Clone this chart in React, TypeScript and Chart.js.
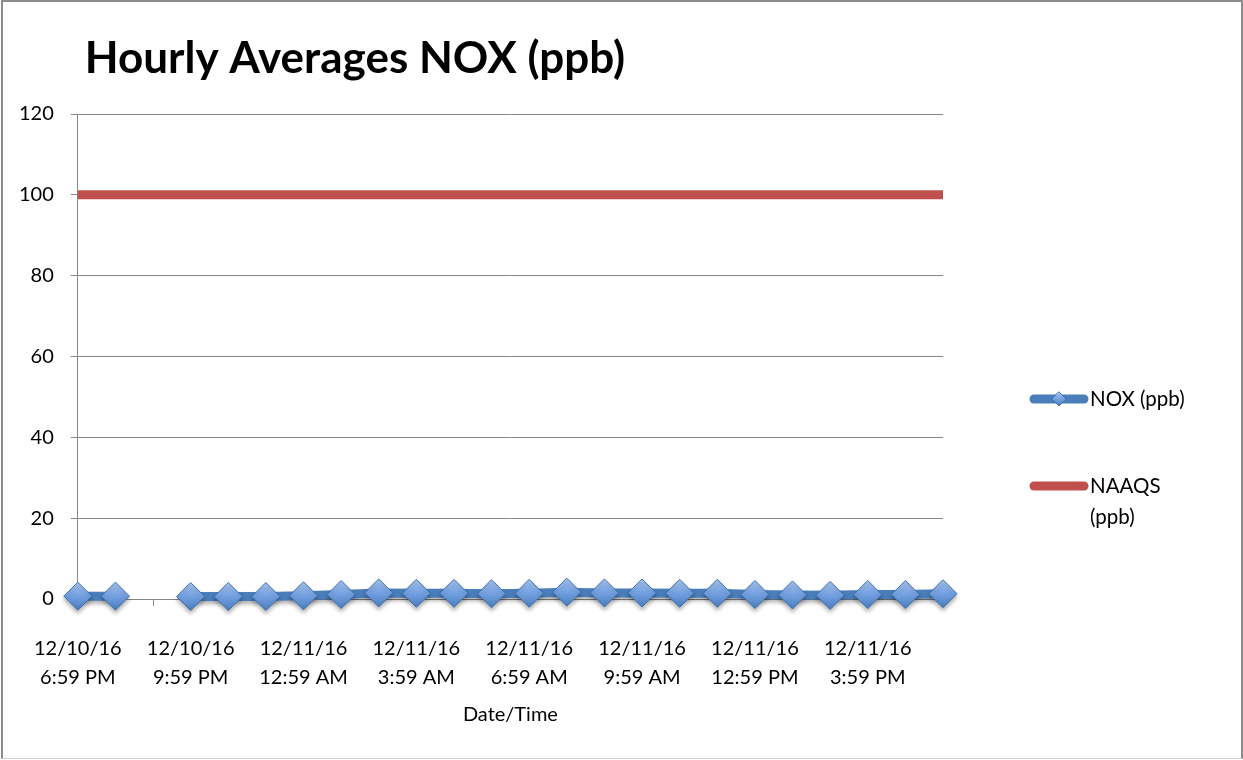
import React, { useEffect, useRef } from "react";
import { Chart, registerables } from "chart.js";

Chart.register(...registerables);

const FONT = "Lato, 'Open Sans', sans-serif";

const chartTitle = "Hourly Averages NOX (ppb)";
const xAxisTitle = "Date/Time";

const dates: string[] = [
  "12/10/16", "12/10/16", "12/10/16", "12/10/16", "12/10/16", "12/10/16",
  "12/11/16", "12/11/16", "12/11/16", "12/11/16", "12/11/16", "12/11/16",
  "12/11/16", "12/11/16", "12/11/16", "12/11/16", "12/11/16", "12/11/16",
  "12/11/16", "12/11/16", "12/11/16", "12/11/16", "12/11/16", "12/11/16",
];
const times: string[] = [
  "6:59 PM", "7:59 PM", "8:59 PM", "9:59 PM", "10:59 PM", "11:59 PM",
  "12:59 AM", "1:59 AM", "2:59 AM", "3:59 AM", "4:59 AM", "5:59 AM",
  "6:59 AM", "7:59 AM", "8:59 AM", "9:59 AM", "10:59 AM", "11:59 AM",
  "12:59 PM", "1:59 PM", "2:59 PM", "3:59 PM", "4:59 PM", "5:59 PM",
];

const noxValues: (number | null)[] = [
  0.7, 0.7, null, 0.6, 0.6, 0.6, 0.8, 1.1, 1.5, 1.4, 1.4, 1.3,
  1.4, 1.7, 1.5, 1.5, 1.4, 1.4, 1.1, 1.0, 0.9, 1.1, 1.1, 1.3,
];
const naaqsValues: number[] = [
  100, 100, 100, 100, 100, 100, 100, 100, 100, 100, 100, 100,
  100, 100, 100, 100, 100, 100, 100, 100, 100, 100, 100, 100,
];

const yMin = 0;
const yMax = 120;
const yStep = 20;
const labelEvery = 3;

const NOX_COLOR = "#4a7ebb";
const NAAQS_COLOR = "#c0504d";
const AXIS_COLOR = "#878787";

function diamondFill(ctx: CanvasRenderingContext2D, y: number, r: number) {
  if (!Number.isFinite(y)) return "#6f9be0";
  const g = ctx.createLinearGradient(0, y - r, 0, y + r);
  g.addColorStop(0, "#a9c6ee");
  g.addColorStop(0.5, "#73a0e2");
  g.addColorStop(1, "#4a7ebb");
  return g;
}

const overlayPlugin = {
  id: "overlay",
  beforeDatasetDraw(chart: any, args: any) {
    if (args.index !== 0) return;
    const ctx: CanvasRenderingContext2D = chart.ctx;
    ctx.save();
    ctx.shadowColor = "rgba(0,0,0,0.3)";
    ctx.shadowBlur = 4;
    ctx.shadowOffsetY = 3;
  },
  afterDatasetDraw(chart: any, args: any) {
    if (args.index !== 0) return;
    chart.ctx.restore();
  },
  afterDraw(chart: any) {
    const ctx: CanvasRenderingContext2D = chart.ctx;
    const area = chart.chartArea;
    ctx.save();
    // Title
    ctx.fillStyle = "#000";
    ctx.font = `bold 44px ${FONT}`;
    ctx.textBaseline = "middle";
    ctx.textAlign = "left";
    ctx.fillText(chartTitle, area.left + 7, 59);

    // Legend
    const lx = area.right + 87;
    const lw = 58;
    const items = [
      { ds: chart.data.datasets[0], y: 399, lines: ["NOX (ppb)"] },
      { ds: chart.data.datasets[1], y: 486, lines: ["NAAQS", "(ppb)"] },
    ];
    ctx.font = `20.5px ${FONT}`;
    items.forEach((it) => {
      ctx.strokeStyle = it.ds.borderColor;
      ctx.lineWidth = 9;
      ctx.lineCap = "round";
      ctx.beginPath();
      ctx.moveTo(lx + 4, it.y);
      ctx.lineTo(lx + lw - 4, it.y);
      ctx.stroke();
      if (it.ds.pointRadius > 0) {
        const cx = lx + lw / 2;
        const r = 7;
        ctx.beginPath();
        ctx.moveTo(cx, it.y - r);
        ctx.lineTo(cx + r, it.y);
        ctx.lineTo(cx, it.y + r);
        ctx.lineTo(cx - r, it.y);
        ctx.closePath();
        ctx.fillStyle = diamondFill(ctx, it.y, r);
        ctx.fill();
        ctx.lineWidth = 1;
        ctx.strokeStyle = "#3f72b0";
        ctx.stroke();
      }
      ctx.fillStyle = "#000";
      it.lines.forEach((t, i) => ctx.fillText(t, lx + lw + 2, it.y + i * 31));
    });
    ctx.restore();
  },
};

export default function App() {
  const ref = useRef<HTMLCanvasElement | null>(null);

  useEffect(() => {
    if (!ref.current) return;
    const labels = dates.map((d, i) => [d, times[i]]);
    const chart = new Chart(ref.current, {
      type: "line",
      data: {
        labels,
        datasets: [
          {
            label: "NOX (ppb)",
            data: noxValues,
            borderColor: NOX_COLOR,
            borderWidth: 9,
            pointStyle: "rectRot",
            pointRadius: 14,
            pointHoverRadius: 14,
            pointBorderColor: "#3f72b0",
            pointBorderWidth: 1,
            pointBackgroundColor: (c: any) => {
              const chartRef = c.chart;
              const v = c.parsed ? c.parsed.y : null;
              const ys = chartRef.scales && chartRef.scales.y;
              if (!ys || v == null) return "#6f9be0";
              const py = ys.getPixelForValue(v);
              return diamondFill(chartRef.ctx, py, 14);
            },
            spanGaps: false,
            tension: 0,
            clip: false,
            order: 0,
          },
          {
            label: "NAAQS (ppb)",
            data: naaqsValues,
            borderColor: NAAQS_COLOR,
            borderWidth: 9,
            pointRadius: 0,
            pointHoverRadius: 0,
            tension: 0,
            clip: false,
            order: 1,
          },
        ],
      },
      options: {
        responsive: false,
        animation: false,
        layout: { padding: { left: 2, right: 300, top: 114, bottom: 33 } },
        plugins: {
          legend: { display: false },
          title: { display: false },
          tooltip: { enabled: false },
        },
        scales: {
          x: {
            type: "category",
            offset: false,
            border: { display: true, color: AXIS_COLOR, width: 1 },
            grid: {
              drawOnChartArea: false,
              drawTicks: true,
              tickLength: 7,
              color: (c: any) => (c.index % labelEvery === labelEvery - 1 ? AXIS_COLOR : "rgba(0,0,0,0)"),
            },
            ticks: {
              autoSkip: false,
              maxRotation: 0,
              minRotation: 0,
              padding: 28,
              color: "#000",
              font: { family: FONT, size: 20, lineHeight: 1.45 },
              callback: function (this: any, val: any, idx: number) {
                return idx % labelEvery === 0 ? this.getLabelForValue(val) : "";
              },
            },
            title: {
              display: true,
              text: xAxisTitle,
              color: "#000",
              font: { family: FONT, size: 20 },
              padding: { top: -17, bottom: 0 },
            },
          },
          y: {
            min: yMin,
            max: yMax,
            border: { display: true, color: AXIS_COLOR, width: 1 },
            grid: { color: AXIS_COLOR, lineWidth: 1, tickLength: 7, drawTicks: true },
            ticks: {
              stepSize: yStep,
              padding: 17,
              color: "#000",
              font: { family: FONT, size: 20 },
            },
          },
        },
      },
      plugins: [overlayPlugin],
    });
    return () => chart.destroy();
  }, []);

  return (
    <div style={{ position: "absolute", left: 0, top: 0, width: 1243, height: 760, background: "#fff" }}>
      <canvas ref={ref} width={1243} height={760} style={{ position: "absolute", left: 0, top: 0 }} />
      <div
        style={{
          position: "absolute",
          left: 1,
          top: 0,
          width: 1242,
          height: 759,
          boxSizing: "border-box",
          borderTop: "2px solid #8c8c8c",
          borderLeft: "2px solid #8c8c8c",
          borderRight: "2px solid #8c8c8c",
          borderBottom: "1px solid #d4d4d4",
          pointerEvents: "none",
        }}
      />
    </div>
  );
}
